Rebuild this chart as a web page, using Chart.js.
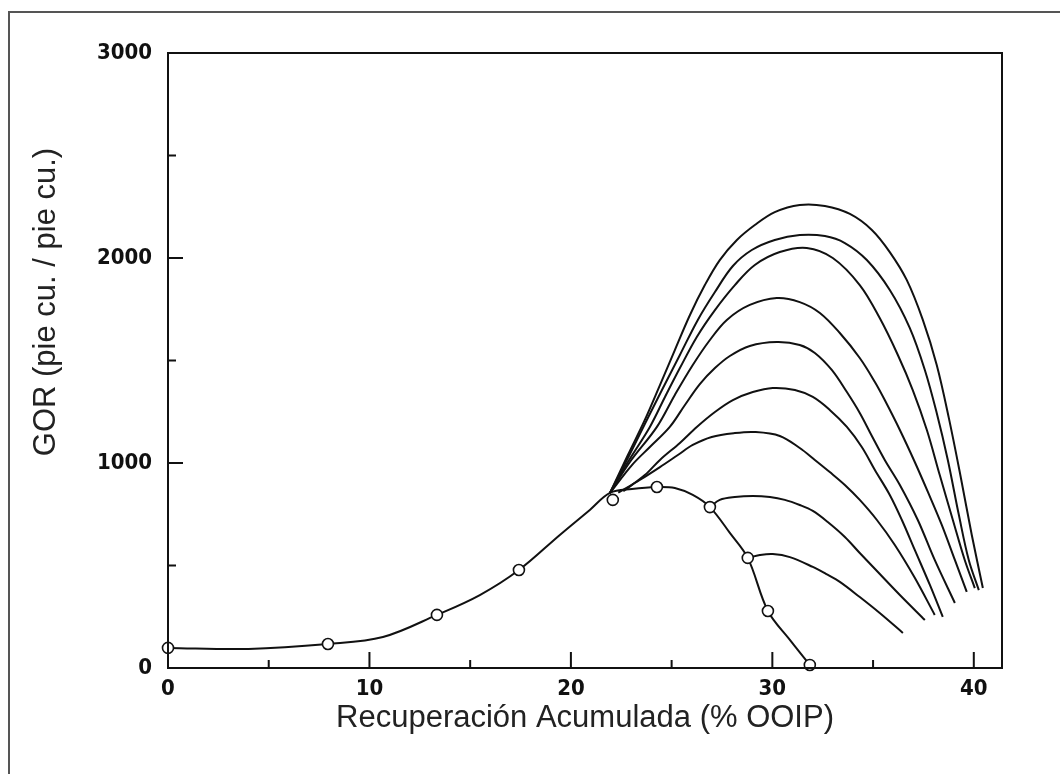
<!DOCTYPE html>
<html>
<head>
<meta charset="utf-8">
<script src="https://cdn.jsdelivr.net/npm/chart.js@4.4.1/dist/chart.umd.min.js"></script>
<style>
html, body { margin: 0; padding: 0; background: #fff; }
</style>
</head>
<body>
<canvas id="grafico" width="1060" height="774"></canvas>
<script>
// ticks
const ticksX = [0, 10, 20, 30, 40];
const menoresX = [5, 15, 25, 35];
const ticksY = [0, 1000, 2000, 3000];
const menoresY = [500, 1500, 2500];

// curva base (con circulos)
const recBase = [0, 4.0, 7.94, 10.67, 13.35, 15.48, 17.42, 19.45, 20.94, 21.94, 23.03, 24.27, 25.16, 26.05, 26.9, 27.89, 28.78, 29.78, 30.87, 31.86];
const gorBase = [98, 93, 117, 151, 259, 356, 478, 649, 771, 854, 873, 883, 878, 844, 785, 659, 537, 278, 137, 15];

const recCirc = [0, 7.94, 13.35, 17.42, 22.08, 24.27, 26.9, 28.78, 29.78, 31.86];
const gorCirc = [98, 117, 259, 478, 820, 883, 785, 537, 278, 15];

// ramas (de arriba hacia abajo)
const rec1 = [21.94, 22.83, 23.67, 24.42, 25.16, 25.91, 26.65, 27.39, 28.24, 29.13, 30.12, 31.36, 32.61, 33.85, 34.94, 35.83, 36.67, 37.47, 38.16, 38.76, 39.36, 39.9, 40.45];
const gor1 = [854, 1039, 1210, 1380, 1551, 1722, 1868, 1990, 2088, 2161, 2224, 2259, 2254, 2215, 2137, 2029, 1893, 1698, 1478, 1220, 927, 649, 390];

const rec2 = [21.94, 22.83, 23.67, 24.52, 25.41, 26.3, 27.15, 28.04, 28.98, 30.12, 31.36, 32.61, 33.6, 34.69, 35.83, 36.82, 37.57, 38.16, 38.71, 39.26, 39.75, 40.25];
const gor2 = [854, 1024, 1190, 1356, 1527, 1698, 1834, 1961, 2039, 2088, 2112, 2107, 2073, 1990, 1844, 1659, 1454, 1244, 1015, 746, 527, 380];

const rec3 = [21.94, 22.83, 23.92, 24.67, 25.41, 26.25, 27.15, 28.14, 29.13, 30.37, 31.71, 33.0, 34.34, 35.33, 36.23, 36.97, 37.67, 38.31, 38.96, 39.55, 40.05];
const gor3 = [854, 1005, 1176, 1322, 1463, 1615, 1746, 1868, 1966, 2029, 2049, 2000, 1868, 1707, 1527, 1356, 1161, 941, 722, 527, 390];

const rec4 = [21.94, 22.93, 24.27, 25.16, 26.05, 26.9, 27.74, 28.88, 30.22, 31.36, 32.36, 33.35, 34.34, 35.09, 35.58, 36.33, 37.07, 37.72, 38.41, 39.06, 39.65];
const gor4 = [854, 1005, 1176, 1332, 1478, 1600, 1698, 1771, 1805, 1785, 1732, 1634, 1512, 1395, 1307, 1161, 1005, 859, 698, 527, 371];

const rec5 = [21.94, 23.03, 23.92, 24.91, 25.66, 26.4, 27.15, 27.89, 28.88, 30.22, 31.36, 32.11, 32.95, 33.7, 34.34, 34.94, 35.58, 36.33, 37.22, 38.06, 39.06];
const gor5 = [854, 990, 1078, 1176, 1283, 1385, 1463, 1522, 1571, 1590, 1576, 1537, 1454, 1346, 1244, 1132, 1015, 893, 722, 527, 317];

const rec6 = [22.6, 23.67, 24.42, 25.41, 26.25, 27.15, 28.04, 29.03, 30.02, 31.12, 32.01, 32.85, 33.7, 34.44, 35.09, 35.83, 36.43, 37.07, 37.82, 38.46];
const gor6 = [862, 941, 1015, 1098, 1176, 1249, 1307, 1346, 1366, 1356, 1322, 1259, 1176, 1078, 966, 844, 722, 576, 405, 249];

const rec7 = [22.35, 23.42, 24.42, 25.31, 26.05, 26.99, 28.14, 29.13, 30.37, 31.36, 32.11, 32.85, 33.6, 34.34, 35.19, 36.08, 37.07, 38.06];
const gor7 = [855, 917, 980, 1039, 1088, 1127, 1146, 1151, 1132, 1073, 1015, 956, 893, 820, 722, 600, 440, 259];

const rec8 = [26.9, 27.39, 28.14, 29.03, 29.88, 30.62, 31.36, 32.01, 32.75, 33.6, 34.34, 35.24, 36.33, 37.57];
const gor8 = [785, 820, 834, 839, 834, 820, 795, 766, 712, 639, 561, 468, 356, 234];

const rec9 = [28.78, 29.38, 30.02, 30.87, 32.01, 32.66, 33.35, 34.34, 35.33, 36.48];
const gor9 = [537, 551, 556, 541, 493, 459, 420, 346, 268, 171];

function pares(xs, ys) {
    return xs.map((x, i) => ({ x: x, y: ys[i] }));
}

function curva(xs, ys) {
    return {
        data: pares(xs, ys),
        showLine: true,
        borderColor: "#111",
        borderWidth: 2,
        pointRadius: 0,
        tension: 0.35,
        fill: false
    };
}

const fuenteTicks = { family: "'DejaVu Sans Condensed', sans-serif", size: 22, weight: "bold" };

const marcas = {
    id: "marcas",
    beforeDraw(chart) {
        const ctx = chart.ctx;
        ctx.save();
        ctx.fillStyle = "#fff";
        ctx.fillRect(0, 0, chart.width, chart.height);
        // marco exterior
        ctx.strokeStyle = "#555";
        ctx.lineWidth = 2;
        ctx.beginPath();
        ctx.moveTo(9, 774);
        ctx.lineTo(9, 12);
        ctx.lineTo(1060, 12);
        ctx.stroke();
        ctx.restore();
    },
    afterDraw(chart) {
        const ctx = chart.ctx;
        const a = chart.chartArea;
        const sx = chart.scales.x, sy = chart.scales.y;
        ctx.save();
        ctx.strokeStyle = "#111";
        ctx.lineWidth = 2;
        ctx.strokeRect(a.left, a.top, a.right - a.left, a.bottom - a.top);
        ctx.beginPath();
        ticksX.forEach(v => {
            if (v === 0) return;
            const p = sx.getPixelForValue(v);
            ctx.moveTo(p, a.bottom); ctx.lineTo(p, a.bottom - 16);
        });
        menoresX.forEach(v => {
            const p = sx.getPixelForValue(v);
            ctx.moveTo(p, a.bottom); ctx.lineTo(p, a.bottom - 8);
        });
        ticksY.forEach(v => {
            if (v === 0 || v === 3000) return;
            const p = sy.getPixelForValue(v);
            ctx.moveTo(a.left, p); ctx.lineTo(a.left + 15, p);
        });
        menoresY.forEach(v => {
            const p = sy.getPixelForValue(v);
            ctx.moveTo(a.left, p); ctx.lineTo(a.left + 8, p);
        });
        ctx.stroke();
        // titulo eje y
        ctx.translate(46, 302);
        ctx.rotate(-Math.PI / 2);
        ctx.fillStyle = "#222";
        ctx.font = "31px 'Liberation Sans', Arial, sans-serif";
        ctx.textAlign = "center";
        ctx.textBaseline = "middle";
        ctx.fillText("GOR (pie cu. / pie cu.)", 0, 0);
        ctx.restore();
    }
};

new Chart(document.getElementById("grafico"), {
    type: "scatter",
    data: {
        datasets: [
            {
                data: pares(recCirc, gorCirc),
                showLine: false,
                pointRadius: 5.5,
                pointBackgroundColor: "#fff",
                pointBorderColor: "#111",
                pointBorderWidth: 1.6,
                clip: false
            },
            curva(recBase, gorBase),
            curva(rec1, gor1),
            curva(rec2, gor2),
            curva(rec3, gor3),
            curva(rec4, gor4),
            curva(rec5, gor5),
            curva(rec6, gor6),
            curva(rec7, gor7),
            curva(rec8, gor8),
            curva(rec9, gor9)
        ]
    },
    options: {
        responsive: false,
        animation: false,
        devicePixelRatio: 1,
        layout: { padding: { top: 53, right: 58, left: 0, bottom: 0 } },
        plugins: { legend: { display: false }, tooltip: { enabled: false } },
        scales: {
            x: {
                type: "linear",
                min: 0,
                max: 41.4,
                afterFit: s => { s.height = 106; },
                afterBuildTicks: s => { s.ticks = ticksX.map(v => ({ value: v })); },
                grid: { display: false, drawTicks: false },
                border: { display: false },
                ticks: { color: "#111", font: fuenteTicks, padding: 8, maxRotation: 0, callback: v => String(v) },
                title: {
                    display: true,
                    text: "Recuperación Acumulada (% OOIP)",
                    color: "#222",
                    font: { family: "'Liberation Sans', Arial, sans-serif", size: 31 },
                    padding: { top: 0, bottom: 37 }
                }
            },
            y: {
                type: "linear",
                min: 0,
                max: 3000,
                afterFit: s => { s.width = 168; },
                afterBuildTicks: s => { s.ticks = ticksY.map(v => ({ value: v })); },
                grid: { display: false, drawTicks: false },
                border: { display: false },
                ticks: { color: "#111", font: fuenteTicks, padding: 16, callback: v => String(v) }
            }
        }
    },
    plugins: [marcas]
});
</script>
</body>
</html>
